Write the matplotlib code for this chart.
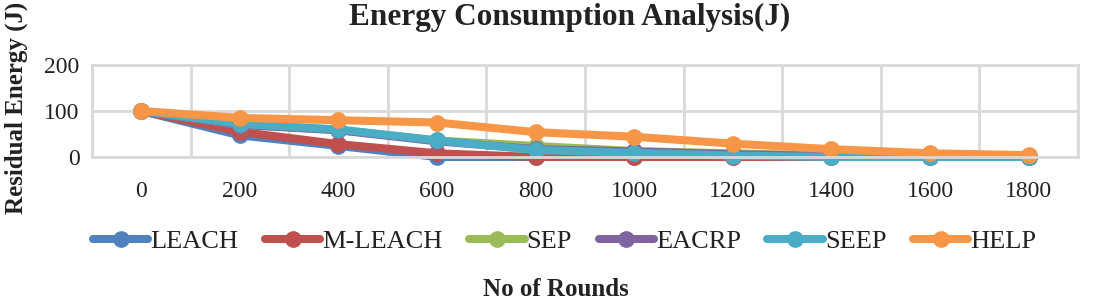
import matplotlib.pyplot as plt
import numpy as np

plt.rcParams["font.family"] = ["Liberation Serif", "DejaVu Serif"]

rounds = ["0", "200", "400", "600", "800", "1000", "1200", "1400", "1600", "1800"]
leach = [100, 47, 24, 0, 0, 0, 0, 0, 0, 0]
m_leach = [100, 55, 28, 8, 0, 0, 0, 0, 0, 0]
sep = [100, 70, 59, 36, 24, 13, 8, 3, 0, 0]
eacrp = [100, 70, 58, 34, 17, 12, 6, 2, 0, 0]
seep = [100, 72, 60, 36, 15, 9, 3, 0, 0, 0]
help_ = [100, 85, 80, 75, 54, 44, 29, 17, 8, 4]

series = [("LEACH", leach, "#4F81BD"),
          ("M-LEACH", m_leach, "#C0504D"),
          ("SEP", sep, "#9BBB59"),
          ("EACRP", eacrp, "#8064A2"),
          ("SEEP", seep, "#4BACC6"),
          ("HELP", help_, "#F79646")]

fig = plt.figure(figsize=(11, 3.04), dpi=100)
ax = fig.add_axes([0.0836, 0.4836, 0.8964, 0.3024])
x = np.arange(len(rounds))
for label, vals, color in series:
    ax.plot(x, vals, color=color, lw=5.8, marker="o", ms=11,
            solid_capstyle="round", clip_on=False, label=label)

ax.set_xlim(-0.5, len(rounds) - 0.5)
ax.set_ylim(0, 200)
ax.set_yticks([0, 100, 200])
ax.set_xticks(x)
ax.set_xticklabels(rounds)
ax.set_xticks(np.arange(len(rounds) + 1) - 0.5, minor=True)
ax.tick_params(which="both", length=0, labelsize=17, colors="#222222")
ax.tick_params(axis="x", pad=17)
ax.tick_params(axis="y", pad=9)
ax.grid(which="minor", axis="x", color="#D9D9D9", lw=2)
ax.grid(which="major", axis="y", color="#D9D9D9", lw=2)
for s in ax.spines.values():
    s.set_color("#D9D9D9")
    s.set_linewidth(2)
ax.set_axisbelow(True)

fig.text(570 / 1100, 1 - 17 / 304, "Energy Consumption Analysis(J)", fontsize=22.5,
         fontweight="bold", ha="center", va="center", color="#222222")
fig.text(16 / 1100, 1 - 108 / 304, "Residual Energy (J)", rotation=90, fontsize=18,
         fontweight="bold", ha="center", va="center", color="#222222")
fig.text(556 / 1100, 1 - 289 / 304, "No of Rounds", fontsize=18, fontweight="bold",
         ha="center", va="center", color="#222222")

leg = fig.legend(loc="center left", bbox_to_anchor=(93 / 1100, 1 - 241 / 304), ncol=6,
                 frameon=False, fontsize=19, handlelength=2.1, columnspacing=1.0,
                 handletextpad=0.08, borderpad=0, borderaxespad=0)
for t in leg.get_texts():
    t.set_color("#222222")

fig.savefig("out.png", dpi=100)
